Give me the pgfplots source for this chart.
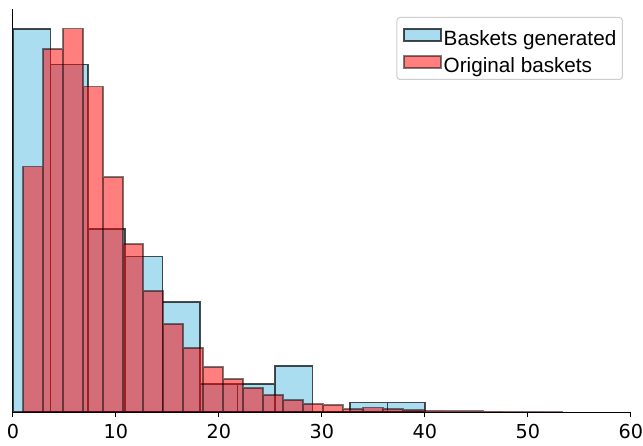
\documentclass[border=0pt]{standalone}
\usepackage{pgfplots}
\pgfplotsset{compat=1.18}
\usepackage{fontspec}
\setmainfont{DejaVu Sans}
\newfontfamily\legendfont{Liberation Sans}
\definecolor{skyblue}{RGB}{135,206,235}
\definecolor{legendgray}{RGB}{204,204,204}

% bin edges (left) and heights, last row closes the interval
\pgfplotstableread{
x y
0.000 383.3
3.636 347.6
7.273 183.3
10.909 155.6
14.545 110.0
18.182 28.0
21.818 28.0
25.455 46.3
29.091 0.0
32.727 9.6
36.364 9.6
40.000 9.6
}\generated

\pgfplotstableread{
x y
1.00 245.6
2.94 363.3
4.88 383.6
6.82 325.6
8.76 235.0
10.70 168.0
12.64 121.3
14.58 88.0
16.52 64.3
18.46 45.3
20.40 33.3
22.34 24.0
24.28 17.0
26.22 12.0
28.16 8.3
30.10 7.2
32.04 3.0
33.98 4.6
35.92 3.3
37.86 2.3
39.80 1.5
41.74 1.2
43.68 1.0
45.62 0.8
47.56 0.6
49.50 0.5
51.44 0.4
53.38 0.4
}\original

\begin{document}
\begin{tikzpicture}
\begin{axis}[
  width=618.1pt, height=403.3pt, scale only axis,
  xmin=0, xmax=60, ymin=0, ymax=403.3,
  axis x line*=bottom, axis y line*=left,
  axis line style={line width=1.2pt, black},
  xtick={0,10,...,60}, ytick=\empty,
  tick align=outside, major tick length=5pt,
  tick style={line width=1.2pt, black},
  xticklabel style={font=\fontsize{19.2}{23}\selectfont, inner sep=0pt,
    yshift=-7.2pt},
  /pgf/number format/assume math mode=true,
  legend style={at={(1,1)}, anchor=north east, xshift=-8pt, yshift=-8pt,
    draw=legendgray, line width=1pt, rounded corners=3pt, fill=white,
    font=\legendfont\fontsize{20.7}{24}\selectfont,
    inner xsep=6pt, inner ysep=6.5pt, row sep=5pt,
    nodes={inner sep=0pt, text height=22pt, text depth=0pt},
    /tikz/every odd column/.style={column sep=2pt}},
  legend cell align=left,
]
\addplot[ybar interval, fill=skyblue, fill opacity=0.7,
  draw=black, draw opacity=0.7, line width=1.6pt,
  legend image code/.code={\draw[sharp corners, fill=skyblue, fill opacity=0.7,
    draw=black, draw opacity=0.7, line width=1.6pt]
    (0pt,-6.2pt) rectangle (37.2pt,6.2pt);}]
  table[x=x, y=y] {\generated};
\addlegendentry{Baskets generated}
\addplot[ybar interval, fill=red, fill opacity=0.5,
  draw=black, draw opacity=0.5, line width=1.6pt,
  legend image code/.code={\draw[sharp corners, fill=red, fill opacity=0.5,
    draw=black, draw opacity=0.5, line width=1.6pt]
    (0pt,-6.2pt) rectangle (37.2pt,6.2pt);}]
  table[x=x, y=y] {\original};
\addlegendentry{Original baskets}
\end{axis}
\path ([shift={(-12.9pt,-33pt)}]current axis.south west)
  rectangle ([shift={(12pt,9pt)}]current axis.north east);
\end{tikzpicture}
\end{document}
